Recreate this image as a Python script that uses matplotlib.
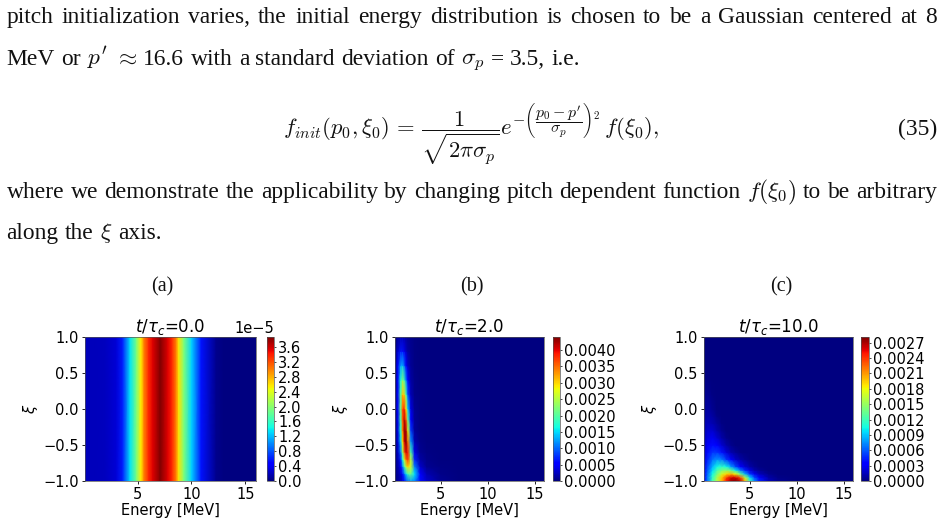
import numpy as np
import matplotlib
matplotlib.use("Agg")
import matplotlib.pyplot as plt
from matplotlib.ticker import MultipleLocator

W, H = 944, 523

# Panel (a): energy profile, the same at every pitch value (units of 1e-5)
energy_a = [0.1, 1, 2, 3, 3.6, 4.3, 4.9, 5.3, 5.6, 6.0, 6.4, 7.1, 7.8, 8.2, 8.6, 8.8, 9.3, 10, 10.9, 12.3, 13, 16]
profile_a = [0.2, 0.2, 0.22, 0.3, 0.6, 1.35, 1.95, 2.55, 3.0, 3.35, 3.55, 3.87, 3.55, 3.35, 2.95,
             2.6, 1.95, 1.3, 0.55, 0.05, 0.0, 0.0]
xi_a = [-1.0, 1.0]

# Panel (b): distribution at t/tau_c = 2 (units of 1e-3)
energy_b = [0.1, 0.4, 0.7, 0.9, 1.1, 1.3, 1.5, 1.8, 2.2, 2.8, 3.5, 5, 7, 16]
xi_b = [-1, -0.9, -0.8, -0.7, -0.6, -0.45, -0.3, -0.15, 0, 0.2, 0.4, 0.6, 0.8, 1]
values_b = [
    [0.05, 0.10, 0.20, 0.35, 0.55, 0.80, 1.00, 1.25, 1.15, 0.60, 0.30, 0.08, 0.01, 0],
    [0.05, 0.12, 0.30, 0.60, 1.00, 1.50, 1.90, 2.10, 1.50, 0.55, 0.20, 0.04, 0.01, 0],
    [0.05, 0.15, 0.45, 1.00, 1.80, 2.60, 3.00, 2.60, 1.10, 0.30, 0.08, 0.02, 0, 0],
    [0.05, 0.20, 0.70, 1.60, 2.70, 3.50, 3.70, 2.50, 0.70, 0.15, 0.04, 0.01, 0, 0],
    [0.05, 0.25, 1.00, 2.20, 3.50, 4.10, 3.80, 1.90, 0.40, 0.08, 0.02, 0, 0, 0],
    [0.05, 0.30, 1.40, 2.90, 4.10, 4.40, 3.40, 1.20, 0.20, 0.04, 0.01, 0, 0, 0],
    [0.05, 0.35, 1.70, 3.30, 4.30, 4.20, 2.70, 0.80, 0.12, 0.03, 0, 0, 0, 0],
    [0.05, 0.40, 1.90, 3.50, 4.20, 3.60, 2.00, 0.55, 0.09, 0.02, 0, 0, 0, 0],
    [0.05, 0.45, 2.10, 3.60, 3.90, 2.90, 1.40, 0.38, 0.07, 0.02, 0, 0, 0, 0],
    [0.05, 0.45, 2.00, 3.10, 3.00, 1.90, 0.85, 0.22, 0.05, 0.02, 0, 0, 0, 0],
    [0.05, 0.45, 1.70, 2.30, 1.90, 1.10, 0.50, 0.14, 0.04, 0.01, 0, 0, 0, 0],
    [0.04, 0.45, 1.25, 1.40, 1.00, 0.55, 0.27, 0.10, 0.03, 0.01, 0, 0, 0, 0],
    [0.03, 0.30, 0.65, 0.65, 0.45, 0.27, 0.15, 0.08, 0.03, 0.01, 0, 0, 0, 0],
    [0.01, 0.07, 0.20, 0.20, 0.16, 0.12, 0.09, 0.06, 0.03, 0.01, 0, 0, 0, 0],
]

# Panel (c): distribution at t/tau_c = 10 (units of 1e-3)
energy_c = [0.1, 0.5, 1, 1.5, 2, 2.5, 3, 3.5, 4, 4.5, 5, 5.5, 6, 7, 8, 10, 16]
xi_c = [-1, -0.95, -0.9, -0.85, -0.8, -0.7, -0.6, -0.5, -0.4, -0.3, -0.2, -0.1, 0, 0.2, 0.4, 0.7, 1]
values_c = [
    [0.30, 0.70, 1.20, 1.60, 2.00, 2.50, 2.75, 2.81, 2.65, 2.00, 1.20, 0.75, 0.45, 0.15, 0.05, 0, 0],
    [0.30, 0.70, 1.15, 1.55, 1.95, 2.35, 2.60, 2.60, 2.30, 1.60, 0.95, 0.55, 0.32, 0.10, 0.03, 0, 0],
    [0.30, 0.65, 1.05, 1.40, 1.70, 1.90, 2.00, 1.80, 1.30, 0.85, 0.50, 0.28, 0.15, 0.04, 0.01, 0, 0],
    [0.28, 0.60, 0.95, 1.25, 1.40, 1.45, 1.35, 1.00, 0.70, 0.45, 0.25, 0.12, 0.06, 0.01, 0, 0, 0],
    [0.25, 0.55, 0.85, 1.05, 1.15, 1.05, 0.80, 0.55, 0.35, 0.20, 0.10, 0.05, 0.02, 0, 0, 0, 0],
    [0.22, 0.45, 0.65, 0.75, 0.70, 0.50, 0.32, 0.18, 0.10, 0.05, 0.02, 0.01, 0, 0, 0, 0, 0],
    [0.20, 0.38, 0.50, 0.50, 0.40, 0.22, 0.12, 0.06, 0.02, 0.01, 0, 0, 0, 0, 0, 0, 0],
    [0.17, 0.30, 0.38, 0.32, 0.20, 0.10, 0.04, 0.01, 0, 0, 0, 0, 0, 0, 0, 0, 0],
    [0.15, 0.25, 0.28, 0.20, 0.10, 0.04, 0.01, 0, 0, 0, 0, 0, 0, 0, 0, 0, 0],
    [0.12, 0.20, 0.20, 0.12, 0.05, 0.01, 0, 0, 0, 0, 0, 0, 0, 0, 0, 0, 0],
    [0.10, 0.15, 0.13, 0.07, 0.02, 0, 0, 0, 0, 0, 0, 0, 0, 0, 0, 0, 0],
    [0.08, 0.12, 0.09, 0.03, 0.01, 0, 0, 0, 0, 0, 0, 0, 0, 0, 0, 0, 0],
    [0.06, 0.09, 0.05, 0.01, 0, 0, 0, 0, 0, 0, 0, 0, 0, 0, 0, 0, 0],
    [0.04, 0.05, 0.02, 0, 0, 0, 0, 0, 0, 0, 0, 0, 0, 0, 0, 0, 0],
    [0.02, 0.02, 0, 0, 0, 0, 0, 0, 0, 0, 0, 0, 0, 0, 0, 0, 0],
    [0.01, 0, 0, 0, 0, 0, 0, 0, 0, 0, 0, 0, 0, 0, 0, 0, 0],
    [0, 0, 0, 0, 0, 0, 0, 0, 0, 0, 0, 0, 0, 0, 0, 0, 0],
]

panel_titles = [r"$t/\tau_c$=0.0", r"$t/\tau_c$=2.0", r"$t/\tau_c$=10.0"]
panel_tags = ["(a)", "(b)", "(c)"]
value_ceilings = [3.87e-5, 4.4e-3, 2.81e-3]
colorbar_steps = [0.4e-5, 0.0005, 0.0003]

# Paragraph text, one list of justified pieces per line
line_one = "pitch initialization varies, the initial energy distribution is chosen to be a Gaussian centered at 8".split()
line_two = ["MeV", "or", r"$p'$", r"$\approx$", "16.6", "with", "a", "standard", "deviation", "of",
            r"$\sigma_p$", "=", "3.5,", "i.e."]
line_four = ["where", "we", "demonstrate", "the", "applicability", "by", "changing", "pitch", "dependent",
             "function", r"$f(\xi_0)$", "to", "be", "arbitrary"]
line_five = ["along", "the", r"$\xi$", "axis."]
equation = (r"$f_{init}(p_0,\xi_0)\/=\/\dfrac{1}{\sqrt{2\pi\sigma_p}}"
            r"e^{-\left(\dfrac{p_0-p'}{\sigma_p}\right)^2}\,f(\xi_0),$")

plt.rcParams["mathtext.fontset"] = "dejavusans"
fig = plt.figure(figsize=(W / 100, H / 100), dpi=100, facecolor="white")
renderer = fig.canvas.get_renderer()
SERIF = "Liberation Serif"


def body_text(x, y, s, size=16.9, **kw):
    return fig.text(x / W, 1 - y / H, s, family=SERIF, math_fontfamily="cm", fontsize=size,
                    va="baseline", color="#111111", **kw)


def justified(pieces, y, x0, x1):
    """Lay out text pieces on one baseline, stretching the gaps to reach x1."""
    items = [body_text(x0, y, p) for p in pieces]
    widths = [t.get_window_extent(renderer).width for t in items]
    gap = (x1 - x0 - sum(widths)) / (len(items) - 1)
    x = x0
    for t, w in zip(items, widths):
        t.set_x(x / W)
        x += w + gap


justified(line_one, 23, 6.5, 937)
justified(line_two, 65, 6.5, 580)
justified(line_four, 198, 6.5, 937)
justified(line_five, 239, 6.5, 162)
body_text(283, 135, equation, size=16.3)
body_text(937, 135, "(35)", ha="right")

# Pixel boxes of the three heat maps and their colour bars: left, right
axes_x = [(85, 256), (395, 544), (704, 853)]
cbar_x = [(267, 274), (553, 560), (861, 869)]
top, bottom = 337, 481

surfaces = [
    (np.array(energy_a), np.array(xi_a), np.array([profile_a, profile_a]) * 1e-5),
    (np.array(energy_b), np.array(xi_b), np.array(values_b) * 1e-3),
    (np.array(energy_c), np.array(xi_c), np.array(values_c) * 1e-3),
]


def box(x_pair):
    return [x_pair[0] / W, 1 - bottom / H, (x_pair[1] - x_pair[0]) / W, (bottom - top) / H]


for i, (ex, ey, z) in enumerate(surfaces):
    ax = fig.add_axes(box(axes_x[i]))
    mesh = ax.pcolormesh(ex, ey, z, cmap="jet", shading="gouraud", vmin=0, vmax=value_ceilings[i])
    ax.set_xlim(0.1, 16)
    ax.set_ylim(-1, 1)
    ax.set_xticks([5, 10, 15])
    ax.set_yticks([-1, -0.5, 0, 0.5, 1])
    ax.tick_params(labelsize=10.5, length=2.5, width=0.6, pad=2)
    ax.set_xlabel("Energy [MeV]", fontsize=10.5, labelpad=0.5)
    ax.set_ylabel(r"$\xi$", fontsize=10.5, labelpad=2)
    ax.set_title(panel_titles[i], fontsize=12, pad=1.5)
    for spine in ax.spines.values():
        spine.set_linewidth(0.5)
        spine.set_color("#555555")

    cax = fig.add_axes(box(cbar_x[i]))
    cb = fig.colorbar(mesh, cax=cax)
    cb.ax.yaxis.set_major_locator(MultipleLocator(colorbar_steps[i]))
    cb.ax.tick_params(labelsize=10.5, length=1.5, width=0.5, pad=1.5)
    cb.ax.yaxis.get_offset_text().set_fontsize(10.5)
    cb.outline.set_linewidth(0.5)
    cb.outline.set_edgecolor("#555555")

    centre = {0: 162, 1: 472, 2: 781}[i]
    fig.text(centre / W, 1 - 291 / H, panel_tags[i], family=SERIF, fontsize=14.5,
             ha="center", va="baseline", color="#111111")

fig.savefig("out.png", dpi=100)
